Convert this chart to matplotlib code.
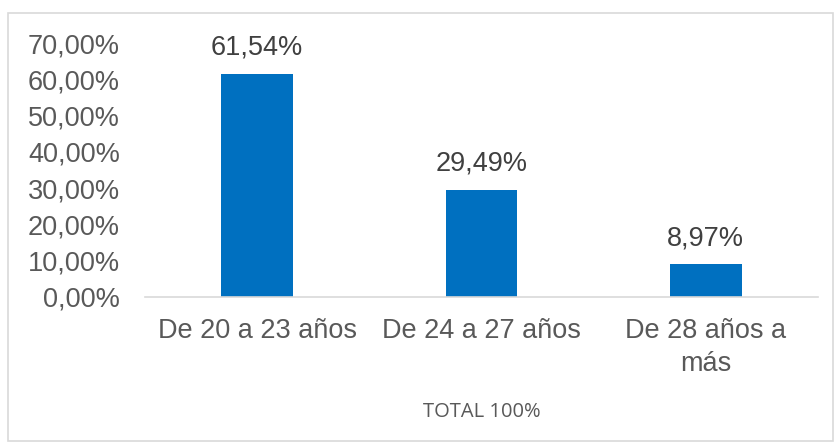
import matplotlib.pyplot as plt
from matplotlib.patches import Rectangle
from matplotlib.ticker import FuncFormatter

# Datos
categorias = ['De 20 a 23 años', 'De 24 a 27 años', 'De 28 años a\nmás']
porcentajes = [61.54, 29.49, 8.97]
etiquetas = ['61,54%', '29,49%', '8,97%']
titulo_x = 'TOTAL 100%'

plt.rcParams['font.family'] = ['Liberation Sans', 'DejaVu Sans']

fig = plt.figure(figsize=(8.35, 4.42), dpi=100)
ax = fig.add_axes([145 / 835, 1 - 297 / 442, (818 - 145) / 835, (297 - 43) / 442])

# Marco del gráfico
fig.patches.append(Rectangle((8 / 835, 1 / 442), 825 / 835, 428 / 442,
                             transform=fig.transFigure, fill=False,
                             edgecolor='#d9d9d9', linewidth=1.2))

x = range(len(categorias))
barras = ax.bar(x, porcentajes, width=0.32, color='#0070C0')

for b, txt in zip(barras, etiquetas):
    ax.text(b.get_x() + b.get_width() / 2, b.get_height() + 3.6, txt,
            ha='center', va='bottom', fontsize=19.5, color='#404040')

ax.set_xlim(-0.5, 2.5)
ax.set_ylim(0, 70)
ax.set_yticks(range(0, 71, 10))
ax.yaxis.set_major_formatter(FuncFormatter(lambda v, p: f'{v:.2f}%'.replace('.', ',')))
ax.set_xticks(list(x))
ax.set_xticklabels(categorias, fontsize=19.5, color='#595959', linespacing=1.35)
ax.tick_params(axis='y', labelsize=19.5, labelcolor='#595959', length=0, pad=18)
ax.tick_params(axis='x', length=0, pad=15)

for s in ['top', 'right', 'left']:
    ax.spines[s].set_visible(False)
ax.spines['bottom'].set_color('#d9d9d9')
ax.spines['bottom'].set_linewidth(1.2)

ax.set_xlabel(titulo_x, fontsize=14.5, color='#595959', family=['Open Sans', 'DejaVu Sans'], labelpad=18)

fig.savefig('out.png', dpi=100)
